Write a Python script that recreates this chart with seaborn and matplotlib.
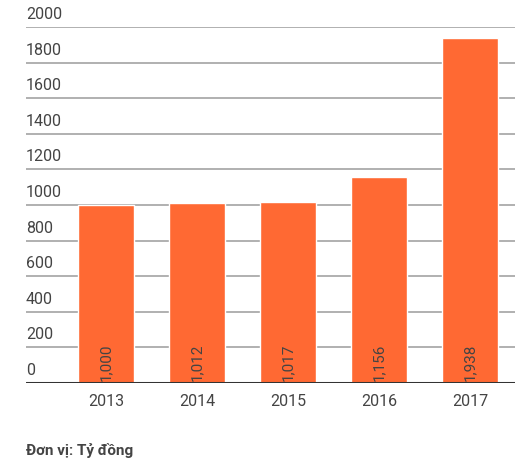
import matplotlib
matplotlib.use("Agg")
import matplotlib.pyplot as plt
import seaborn as sns
import pandas as pd

# data
years = ["2013", "2014", "2015", "2016", "2017"]
values = [1000, 1012, 1017, 1156, 1938]
value_labels = ["1,000", "1,012", "1,017", "1,156", "1,938"]
y_ticks = [0, 200, 400, 600, 800, 1000, 1200, 1400, 1600, 1800, 2000]
unit_note = "Đơn vị: Tỷ đồng"

sns.set_theme(style="white")
plt.rcParams["font.family"] = ["Roboto", "DejaVu Sans"]

df = pd.DataFrame({"year": years, "value": values})

W, H = 528, 469
fig = plt.figure(figsize=(W / 100, H / 100), dpi=100)
ax = fig.add_axes([26 / W, 1 - 383 / H, (515 - 26) / W, (383 - 27) / H])

# gridlines behind the bars
for t in y_ticks[1:]:
    ax.axhline(t, color="#9b9b9b", lw=1.1, zorder=0)

sns.barplot(data=df, x="year", y="value", color="#ff6933", saturation=1,
            width=0.615, ax=ax, zorder=2)

ax.axhline(0, color="#333333", lw=2.2, zorder=3)

ax.set_xlim((26 - 106) / 91, (515 - 106) / 91)
ax.set_ylim(0, 2000)
ax.set_xlabel("")
ax.set_ylabel("")
ax.set_yticks([])
for s in ax.spines.values():
    s.set_visible(False)

ax.tick_params(axis="x", length=0, pad=8, labelsize=11.5, labelcolor="#444444")

# y tick labels sit just above each gridline, left aligned
for t in y_ticks:
    ax.text(0, t + 28, str(t), transform=ax.get_yaxis_transform(),
            ha="left", va="bottom", fontsize=11.5, color="#444444")

# rotated value labels inside bars
for i, lab in enumerate(value_labels):
    ax.text(i, 14, lab, rotation=90, ha="center", va="bottom",
            fontsize=11, color="#444444", zorder=4)

fig.text(26 / W, 1 - 450 / H, unit_note, ha="left", va="center",
         fontsize=11, fontweight="bold", color="#444444")

fig.savefig("out.png", dpi=100)
